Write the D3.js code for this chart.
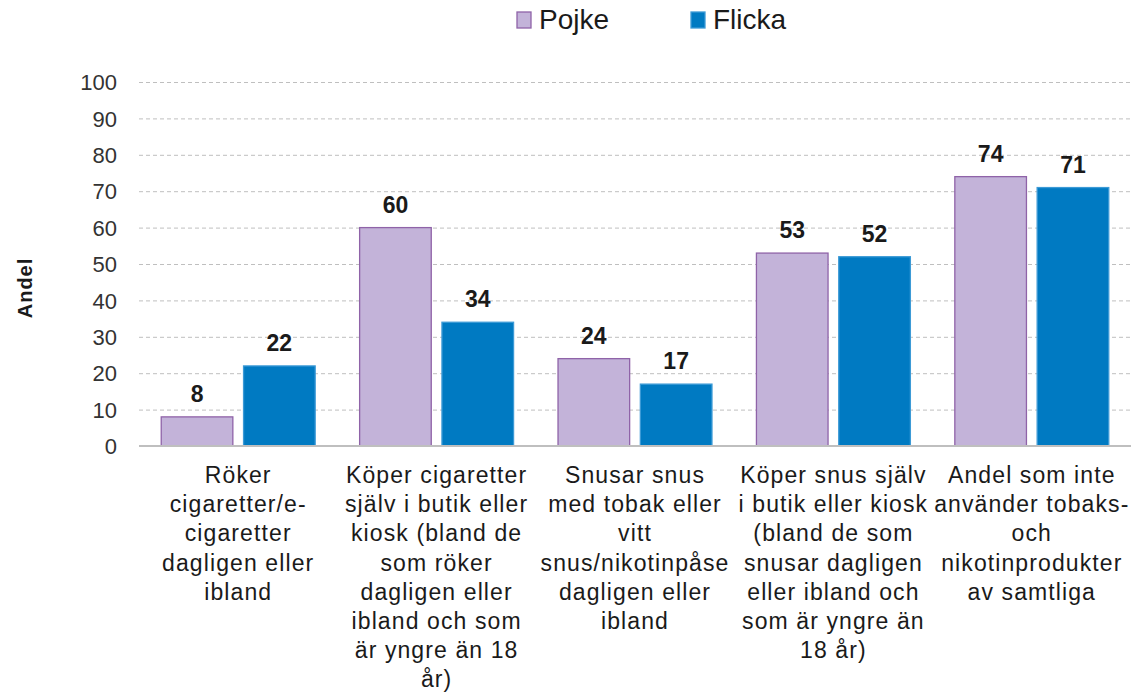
<!DOCTYPE html>
<html>
<head>
<meta charset="utf-8">
<script src="https://cdn.jsdelivr.net/npm/d3@7"></script>
<style>
  html, body { margin: 0; padding: 0; background: #fff; }
  svg { display: block; font-family: "Liberation Sans", Arial, sans-serif; }
</style>
</head>
<body>
<svg id="chart" width="1132" height="695"></svg>
<script>
const categories = [
  ["Röker", "cigaretter/e-", "cigaretter", "dagligen eller", "ibland"],
  ["Köper cigaretter", "själv i butik eller", "kiosk (bland de", "som röker", "dagligen eller", "ibland och som", "är yngre än 18", "år)"],
  ["Snusar snus", "med tobak eller", "vitt", "snus/nikotinpåse", "dagligen eller", "ibland"],
  ["Köper snus själv", "i butik eller kiosk", "(bland de som", "snusar dagligen", "eller ibland och", "som är yngre än", "18 år)"],
  ["Andel som inte", "använder tobaks-", "och", "nikotinprodukter", "av samtliga"]
];
const seriesNames = ["Pojke", "Flicka"];
const pojke = [8, 60, 24, 53, 74];
const flicka = [22, 34, 17, 52, 71];
const yTicks = [0, 10, 20, 30, 40, 50, 60, 70, 80, 90, 100];
const yTitle = "Andel";

(function () {
const fills = { Pojke: "#C3B3D9", Flicka: "#007AC2" };
const strokes = { Pojke: "#8F63A8", Flicka: "#3C9AD6" };

const svg = d3.select("#chart");
const mLeft = 139, mRight = 1131, mTop = 82, mBottom = 446;

const x0 = d3.scaleBand().domain(d3.range(categories.length)).range([mLeft, mRight]).paddingInner(0).paddingOuter(0);
const x1 = d3.scaleBand().domain(seriesNames).range([0, x0.bandwidth()]).paddingInner(0.13).paddingOuter(0.27);
const y = d3.scaleLinear().domain([0, 100]).range([mBottom, mTop]);

// gridlines
const grid = svg.append("g")
  .attr("transform", `translate(${mLeft},0)`)
  .call(d3.axisLeft(y).tickValues(yTicks.filter(d => d > 0)).tickSize(-(mRight - mLeft)).tickFormat(""));
grid.select(".domain").remove();
grid.selectAll("line").attr("stroke", "#BFBFBF").attr("stroke-width", 1).attr("stroke-dasharray", "4,3");

// y tick labels
const yAx = svg.append("g")
  .attr("transform", `translate(${mLeft},0)`)
  .call(d3.axisLeft(y).tickValues(yTicks).tickSize(0).tickPadding(22).tickFormat(d3.format("d")));
yAx.select(".domain").remove();
yAx.selectAll("text").attr("font-size", 22).attr("fill", "#333333").attr("font-family", '"Liberation Sans", Arial, sans-serif').attr("dy", "0.35em");

// bars
const data = categories.map((c, i) => ({ i, vals: [{ k: "Pojke", v: pojke[i] }, { k: "Flicka", v: flicka[i] }] }));
const groups = svg.append("g").selectAll("g").data(data).join("g")
  .attr("transform", d => `translate(${x0(d.i)},0)`);
groups.selectAll("rect").data(d => d.vals).join("rect")
  .attr("x", d => x1(d.k))
  .attr("width", x1.bandwidth())
  .attr("y", d => y(d.v))
  .attr("height", d => y(0) - y(d.v))
  .attr("fill", d => fills[d.k])
  .attr("stroke", d => strokes[d.k])
  .attr("stroke-width", 1.3);
groups.selectAll("text.val").data(d => d.vals).join("text")
  .attr("class", "val")
  .attr("x", d => x1(d.k) + x1.bandwidth() / 2)
  .attr("y", d => y(d.v) - 15)
  .attr("text-anchor", "middle")
  .attr("font-size", 23)
  .attr("font-weight", "bold")
  .attr("fill", "#1a1a1a")
  .text(d => d.v);

// x axis baseline
svg.append("line")
  .attr("x1", mLeft).attr("x2", mRight)
  .attr("y1", y(0)).attr("y2", y(0))
  .attr("stroke", "#BFBFBF").attr("stroke-width", 2);

// category labels
const xAx = svg.append("g").attr("transform", `translate(0,${mBottom})`)
  .call(d3.axisBottom(x0).tickSize(0).tickFormat(""));
xAx.select(".domain").remove();
xAx.selectAll(".tick").each(function(d) {
  const t = d3.select(this).append("text")
    .attr("text-anchor", "middle")
    .attr("font-size", 23)
    .attr("letter-spacing", "1.1px")
    .attr("fill", "#1a1a1a")
    .attr("font-family", '"Liberation Sans", Arial, sans-serif');
  categories[d].forEach((line, j) => {
    t.append("tspan").attr("x", 0).attr("y", 37 + j * 29.2).text(line);
  });
});

// y title
svg.append("text")
  .attr("transform", `translate(32,${(mTop + mBottom) / 2 + 24}) rotate(-90)`)
  .attr("text-anchor", "middle")
  .attr("font-size", 20)
  .attr("letter-spacing", "1px")
  .attr("font-weight", "bold")
  .attr("fill", "#1a1a1a")
  .text(yTitle);

// legend
const legendX = [517, 691];
const leg = svg.append("g").selectAll("g").data(seriesNames).join("g")
  .attr("transform", (d, i) => `translate(${legendX[i]},12)`);
leg.append("rect").attr("width", 14).attr("height", 16)
  .attr("fill", d => fills[d]).attr("stroke", d => strokes[d]).attr("stroke-width", 1.3);
leg.append("text").attr("x", 22).attr("y", 17)
  .attr("font-size", 28).attr("fill", "#1a1a1a").text(d => d);
})();
</script>
</body>
</html>
